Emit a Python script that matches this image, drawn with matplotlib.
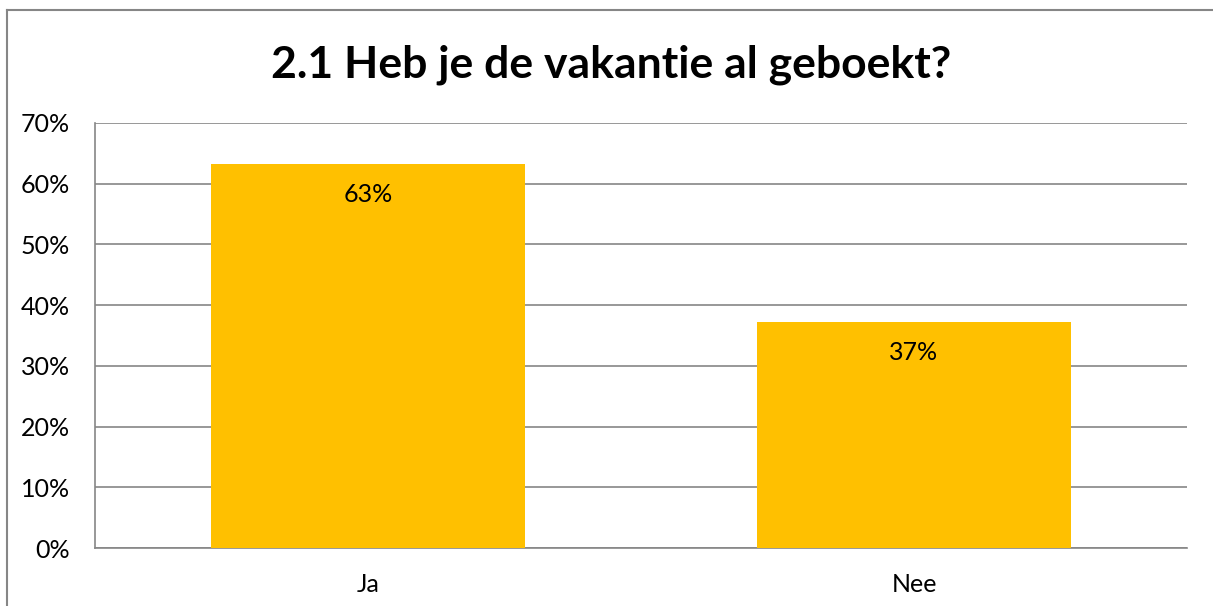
import matplotlib.pyplot as plt
from matplotlib.lines import Line2D
from matplotlib.ticker import FuncFormatter

categories = ["Ja", "Nee"]
values = [63.2, 37.2]
labels = ["63%", "37%"]
yticks = [0, 10, 20, 30, 40, 50, 60, 70]

W, H = 1213, 606
plt.rcParams['font.family'] = ['Lato', 'DejaVu Sans']

fig = plt.figure(figsize=(W / 100, H / 100), dpi=100)
ax = fig.add_axes([95 / W, (H - 548) / H, 1092 / W, 425 / H])

x = range(len(categories))
ax.bar(x, values, width=0.575, color="#FFC000", zorder=3)
for xi, v, lab in zip(x, values, labels):
    ax.annotate(lab, (xi, v), xytext=(0, -22), textcoords="offset points",
                ha="center", va="center", fontsize=18, color="black", zorder=4)

ax.set_xlim(-0.5, 1.5)
ax.set_ylim(0, 70)
ax.set_yticks(yticks)
ax.yaxis.set_major_formatter(FuncFormatter(lambda v, p: f"{v:.0f}%"))
ax.set_xticks(list(x))
ax.set_xticklabels(categories)
ax.tick_params(axis="y", length=0, pad=18, labelsize=18)
ax.tick_params(axis="x", length=0, pad=18, labelsize=18)
ax.grid(axis="y", color="#868686", linewidth=1.2, zorder=0)
for s in ["top", "right"]:
    ax.spines[s].set_visible(False)
for s in ["left", "bottom"]:
    ax.spines[s].set_color("#868686")
    ax.spines[s].set_linewidth(1.2)

fig.text(611 / W, 1 - 65 / H, "2.1 Heb je de vakantie al geboekt?",
         ha="center", va="center", fontsize=32, fontweight="bold")

# outer chart border (left and top edges visible)
fig.add_artist(Line2D([7 / W, 7 / W], [0, 1 - 10 / H], transform=fig.transFigure,
                      color="#868686", linewidth=1.5))
fig.add_artist(Line2D([7 / W, 1], [1 - 10 / H, 1 - 10 / H], transform=fig.transFigure,
                      color="#868686", linewidth=1.5))

fig.savefig("out.png", dpi=100)
